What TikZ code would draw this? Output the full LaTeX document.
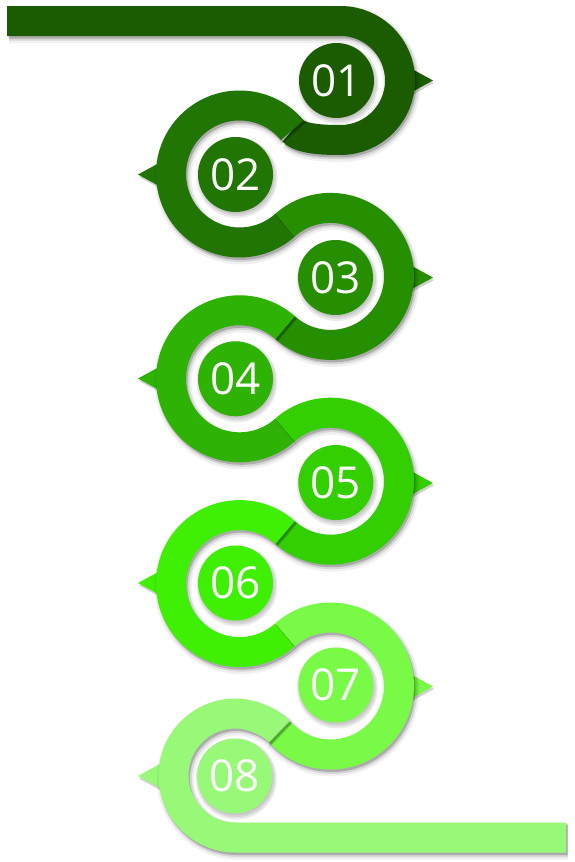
\documentclass[tikz,border=0pt]{standalone}
\usepackage{fontspec}
\newfontfamily\numfont{Open Sans}
\definecolor{c1}{HTML}{1B5C00}
\definecolor{c2}{HTML}{207503}
\definecolor{c3}{HTML}{268F00}
\definecolor{c4}{HTML}{2EB204}
\definecolor{c5}{HTML}{33CF00}
\definecolor{c6}{HTML}{40F004}
\definecolor{c7}{HTML}{78FA46}
\definecolor{c8}{HTML}{98F877}
\tikzset{
  band/.style={line width=30pt, line cap=butt, line join=round},
  shA/.style={line width=37pt, line cap=butt, black, opacity=0.06, shift={(2,3.5)}},
  shB/.style={line width=33pt, line cap=butt, black, opacity=0.10, shift={(2,3)}},
  shC/.style={line width=30pt, line cap=butt, black, opacity=0.20, shift={(1.5,2.5)}},
  numc/.style={circle, minimum size=75pt, inner sep=0pt, text=white,
    font=\numfont\fontsize{44}{44}\selectfont},
  csh/.style={circle, minimum size=#1, inner sep=0pt, fill=black, opacity=0.08},
  trish/.style={fill=black, opacity=0.18, shift={(1,2.5)}}
}
\newcommand\pOne{(7,21) -- (340.5,21) arc[start angle=-90,end angle=90,radius=59.5] .. controls (324.5,140) and (299.9,139.4) .. (292.2,130.2)}
\newcommand\pTwo{(292.2,130.2) arc[start angle=320.25,end angle=48.37,radius=68.5]}
\newcommand\pThree{(285,225.2) arc[start angle=228.37,end angle=491.63,radius=68.5]}
\newcommand\pFour{(285,327.6) arc[start angle=311.63,end angle=48.37,radius=68.5]}
\newcommand\pFive{(285,430) arc[start angle=228.37,end angle=491.63,radius=68.5]}
\newcommand\pSix{(285,532.4) arc[start angle=311.63,end angle=48.37,radius=68.5]}
\newcommand\pSeven{(285,634.8) arc[start angle=228.37,end angle=498.3,radius=68.5]}
\newcommand\pEight{(279.36,731.57) .. controls (271.4,722.6) and (251.5,713.5) .. (235.5,713.5) arc[start angle=270,end angle=90,radius=62] -- (566,837.5)}
\newcommand\segdraw[2]{%
  \draw[shA] #1; \draw[shB] #1; \draw[shC] #1;
  \draw[band, #2] #1;}
\newcommand\trir[2]{% right-pointing arrow at y=#1, colour #2
  \fill[trish] (411,#1-12) -- (433,#1) -- (411,#1+12) -- cycle;
  \fill[#2] (411,#1-12) -- (433,#1) -- (411,#1+12) -- cycle;}
\newcommand\tril[2]{% left-pointing arrow at y=#1, colour #2
  \fill[trish] (160,#1-12) -- (138,#1) -- (160,#1+12) -- cycle;
  \fill[#2] (160,#1-12) -- (138,#1) -- (160,#1+12) -- cycle;}
\newcommand\numshadow[2]{% x, y
  \node[csh=81pt] at (#1+1.5,#2+3) {};
  \node[csh=78pt] at (#1+1.5,#2+2.5) {};
  \node[csh=75pt] at (#1+1,#2+2) {};
}
\begin{document}
\begin{tikzpicture}[x=1pt,y=-1pt]
\fill[white] (0,0) rectangle (574,862);
\useasboundingbox (0,0) rectangle (574,862);
% arrow tips
\trir{80.5}{c1}
\tril{174.5}{c2}
\trir{277.5}{c3}
\tril{378.5}{c4}
\trir{483}{c5}
\tril{583}{c6}
\trir{686.5}{c7}
\tril{776}{c8}
% ribbon segments
\segdraw{\pOne}{c1}
\segdraw{\pTwo}{c2}
\segdraw{\pThree}{c3}
\segdraw{\pFour}{c4}
\segdraw{\pFive}{c5}
\segdraw{\pSix}{c6}
\segdraw{\pSeven}{c7}
\segdraw{\pEight}{c8}
% number circles
\numshadow{336.5}{80.5}
\node[numc, fill=c1] (n1) at (336.5,80.5) {01};
\numshadow{235.5}{174.5}
\node[numc, fill=c2] (n2) at (235.5,174.5) {02};
\numshadow{335.5}{277.5}
\node[numc, fill=c3] (n3) at (335.5,277.5) {03};
\numshadow{235.5}{378.8}
\node[numc, fill=c4] (n4) at (235.5,378.8) {04};
\numshadow{335.8}{482.5}
\node[numc, fill=c5] (n5) at (335.8,482.5) {05};
\numshadow{235.5}{583}
\node[numc, fill=c6] (n6) at (235.5,583) {06};
\numshadow{335.8}{685}
\node[numc, fill=c7] (n7) at (335.8,685) {07};
\numshadow{234.7}{776}
\node[numc, fill=c8] (n8) at (234.7,776) {08};
\end{tikzpicture}
\end{document}
